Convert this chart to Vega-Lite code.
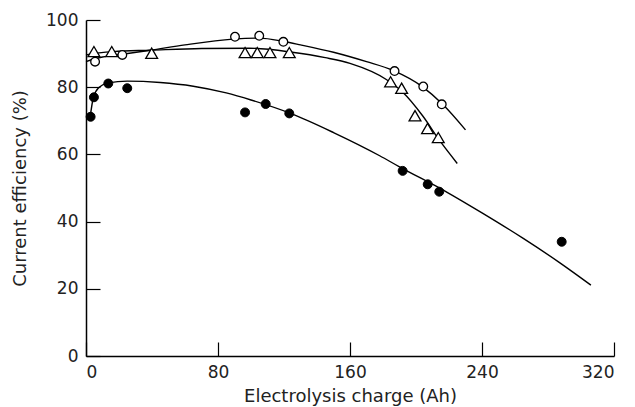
{
  "$schema": "https://vega.github.io/schema/vega-lite/v6.json",
  "autosize": "none",
  "width": 528,
  "height": 336,
  "padding": {"left": 86, "top": 20, "right": 21, "bottom": 51},
  "background": "white",
  "datasets": {
    "curves": [
      {"series": "open", "charge": 0, "eff": 87.6},
      {"series": "open", "charge": 5, "eff": 88.4},
      {"series": "open", "charge": 10, "eff": 89.0},
      {"series": "open", "charge": 22, "eff": 89.8},
      {"series": "open", "charge": 39, "eff": 91.0},
      {"series": "open", "charge": 60, "eff": 92.6},
      {"series": "open", "charge": 89, "eff": 94.3},
      {"series": "open", "charge": 105, "eff": 94.6},
      {"series": "open", "charge": 120, "eff": 93.6},
      {"series": "open", "charge": 130, "eff": 92.6},
      {"series": "open", "charge": 150, "eff": 90.4},
      {"series": "open", "charge": 170, "eff": 87.6},
      {"series": "open", "charge": 186, "eff": 85.0},
      {"series": "open", "charge": 204, "eff": 80.1},
      {"series": "open", "charge": 216, "eff": 75.0},
      {"series": "open", "charge": 230, "eff": 67.3},
      {"series": "triangle", "charge": 0, "eff": 89.6},
      {"series": "triangle", "charge": 8, "eff": 90.2},
      {"series": "triangle", "charge": 16.5, "eff": 90.6},
      {"series": "triangle", "charge": 39, "eff": 91.0},
      {"series": "triangle", "charge": 70, "eff": 91.5},
      {"series": "triangle", "charge": 99, "eff": 91.6},
      {"series": "triangle", "charge": 125, "eff": 90.4},
      {"series": "triangle", "charge": 145, "eff": 88.8},
      {"series": "triangle", "charge": 160, "eff": 87.1},
      {"series": "triangle", "charge": 182, "eff": 82.3},
      {"series": "triangle", "charge": 192, "eff": 78.5},
      {"series": "triangle", "charge": 204, "eff": 71.5},
      {"series": "triangle", "charge": 214.5, "eff": 64.0},
      {"series": "triangle", "charge": 225, "eff": 57.3},
      {"series": "filled", "charge": 2.5, "eff": 71.0},
      {"series": "filled", "charge": 4.5, "eff": 77.0},
      {"series": "filled", "charge": 8, "eff": 80.0},
      {"series": "filled", "charge": 13.5, "eff": 81.3},
      {"series": "filled", "charge": 25, "eff": 81.8},
      {"series": "filled", "charge": 45, "eff": 81.4},
      {"series": "filled", "charge": 65, "eff": 80.3},
      {"series": "filled", "charge": 85, "eff": 78.3},
      {"series": "filled", "charge": 100, "eff": 76.2},
      {"series": "filled", "charge": 124, "eff": 72.2},
      {"series": "filled", "charge": 150, "eff": 66.5},
      {"series": "filled", "charge": 178, "eff": 59.6},
      {"series": "filled", "charge": 190, "eff": 56.3},
      {"series": "filled", "charge": 218.6, "eff": 48.8},
      {"series": "filled", "charge": 240, "eff": 42.6},
      {"series": "filled", "charge": 265, "eff": 35.0},
      {"series": "filled", "charge": 287, "eff": 27.8},
      {"series": "filled", "charge": 306, "eff": 21.1}
    ],
    "points": [
      {"series": "open", "charge": 5.5, "eff": 87.6},
      {"series": "open", "charge": 22, "eff": 89.6},
      {"series": "open", "charge": 90.3, "eff": 95.0},
      {"series": "open", "charge": 105, "eff": 95.3},
      {"series": "open", "charge": 119.6, "eff": 93.5},
      {"series": "open", "charge": 187, "eff": 84.8},
      {"series": "open", "charge": 204.4, "eff": 80.2},
      {"series": "open", "charge": 215.6, "eff": 74.9},
      {"series": "triangle", "charge": 4.8, "eff": 90.6},
      {"series": "triangle", "charge": 15.6, "eff": 90.6},
      {"series": "triangle", "charge": 39.8, "eff": 90.1},
      {"series": "triangle", "charge": 96.4, "eff": 90.3},
      {"series": "triangle", "charge": 103.8, "eff": 90.3},
      {"series": "triangle", "charge": 111.5, "eff": 90.3},
      {"series": "triangle", "charge": 123.2, "eff": 90.3},
      {"series": "triangle", "charge": 184.6, "eff": 81.6},
      {"series": "triangle", "charge": 191.3, "eff": 79.7},
      {"series": "triangle", "charge": 199.4, "eff": 71.5},
      {"series": "triangle", "charge": 207, "eff": 67.7},
      {"series": "triangle", "charge": 213.5, "eff": 65.0},
      {"series": "filled", "charge": 2.8, "eff": 71.2},
      {"series": "filled", "charge": 4.8, "eff": 77.0},
      {"series": "filled", "charge": 13.5, "eff": 81.1},
      {"series": "filled", "charge": 25, "eff": 79.7},
      {"series": "filled", "charge": 96.4, "eff": 72.5},
      {"series": "filled", "charge": 108.9, "eff": 75.0},
      {"series": "filled", "charge": 123.2, "eff": 72.2},
      {"series": "filled", "charge": 191.9, "eff": 55.1},
      {"series": "filled", "charge": 207.1, "eff": 51.1},
      {"series": "filled", "charge": 214.1, "eff": 48.9},
      {"series": "filled", "charge": 288.3, "eff": 34.0}
    ]
  },
  "config": {
    "view": {"stroke": null},
    "axis": {
      "grid": false,
      "domainColor": "black",
      "domainWidth": 1.5,
      "tickColor": "black",
      "tickWidth": 1.2,
      "tickSize": -14,
      "labelFont": "DejaVu Sans",
      "labelFontSize": 17,
      "labelColor": "#222",
      "titleFont": "DejaVu Sans",
      "titleFontSize": 18,
      "titleFontWeight": "normal",
      "titleColor": "#222"
    }
  },
  "encoding": {
    "x": {
      "field": "charge",
      "type": "quantitative",
      "scale": {"domain": [0, 320], "nice": false},
      "axis": {"values": [0, 80, 160, 240, 320], "title": "Electrolysis charge (Ah)", "labelPadding": 22, "titlePadding": 7}
    },
    "y": {
      "field": "eff",
      "type": "quantitative",
      "scale": {"domain": [0, 100], "nice": false},
      "axis": {"values": [0, 20, 40, 60, 80, 100], "title": "Current efficiency (%)", "labelPadding": 22, "titlePadding": 16}
    }
  },
  "layer": [
    {
      "data": {"name": "curves"},
      "mark": {"type": "line", "color": "black", "strokeWidth": 1.4, "interpolate": "monotone"},
      "encoding": {"detail": {"field": "series"}}
    },
    {
      "data": {"name": "points"},
      "transform": [{"filter": "datum.series === 'open'"}],
      "mark": {"type": "point", "shape": "circle", "filled": true, "fill": "white", "stroke": "black", "strokeWidth": 1.3, "size": 75, "opacity": 1}
    },
    {
      "data": {"name": "points"},
      "transform": [{"filter": "datum.series === 'triangle'"}],
      "mark": {"type": "point", "shape": "triangle-up", "filled": true, "fill": "white", "stroke": "black", "strokeWidth": 1.3, "size": 140, "opacity": 1}
    },
    {
      "data": {"name": "points"},
      "transform": [{"filter": "datum.series === 'filled'"}],
      "mark": {"type": "point", "shape": "circle", "filled": true, "fill": "black", "stroke": "black", "strokeWidth": 1, "size": 80, "opacity": 1}
    }
  ]
}
